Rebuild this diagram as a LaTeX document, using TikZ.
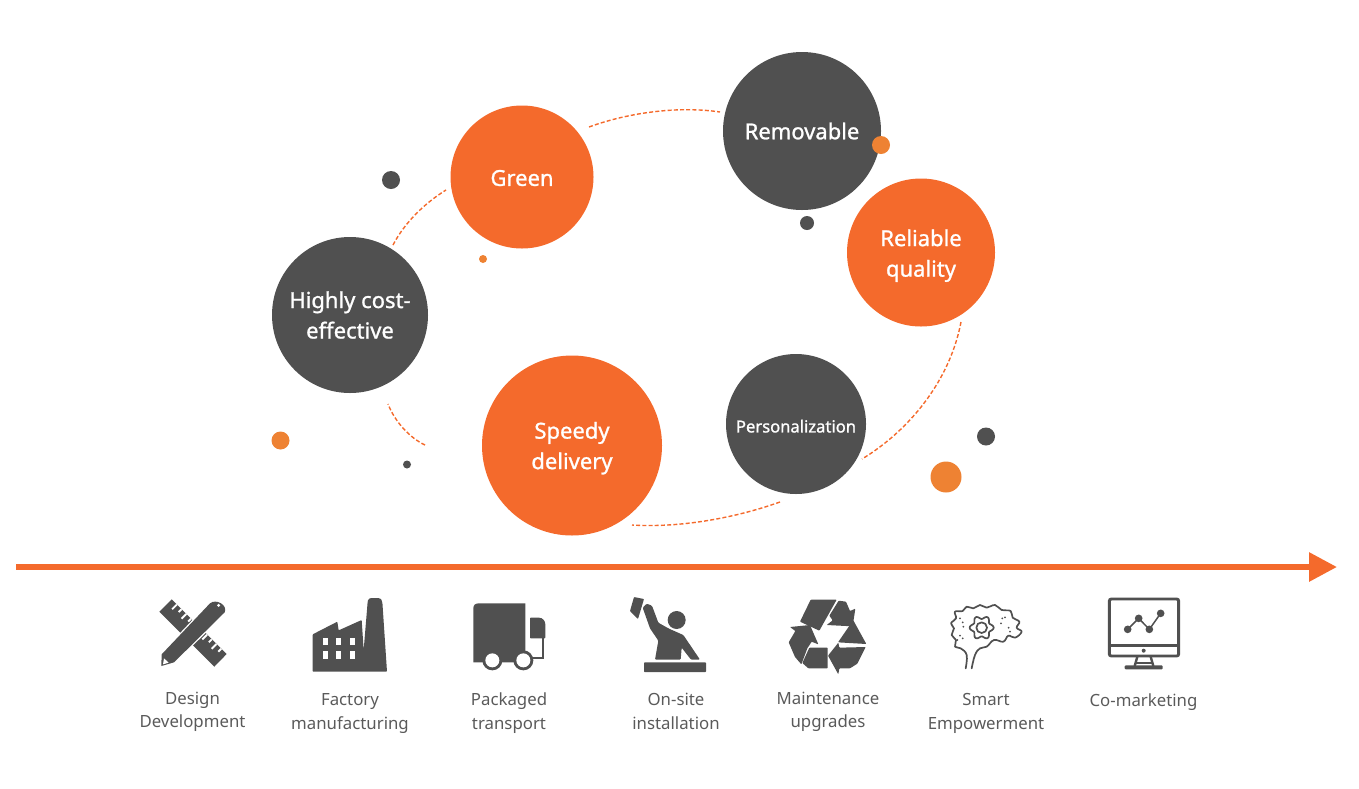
\documentclass[tikz,border=0pt]{standalone}
\usepackage{fontspec}
\setmainfont{Noto Sans}
\newfontfamily\circfont[FakeBold=1.1]{Noto Sans}
\usetikzlibrary{arrows.meta}
\definecolor{org}{HTML}{F46A2C}
\definecolor{org2}{HTML}{EE8233}
\definecolor{gry}{HTML}{505050}
\definecolor{txt}{HTML}{5A5A5A}
\newcommand{\dn}[1]{\rule{0pt}{#1pt}}
\tikzset{
  bub/.style={circle,inner sep=0pt,minimum size=#1,text=white,align=center,font=\circfont\fontsize{22}{30.5}\selectfont},
  orgbub/.style={bub=#1,fill=org},
  grybub/.style={bub=#1,fill=gry},
  dotg/.style={circle,inner sep=0pt,minimum size=#1,fill=gry},
  doto/.style={circle,inner sep=0pt,minimum size=#1,fill=org2},
  dashlink/.style={draw=org,line width=1.4pt,dash pattern=on 4pt off 2.2pt},
  caption/.style={text=txt,align=center,font=\fontsize{16.8}{23.5}\selectfont,inner sep=0pt},
  ic/.style={fill=gry,draw=none},
  iw/.style={fill=white,draw=none},
  il/.style={draw=gry,fill=none,line join=round,line cap=round}
}
\begin{document}
\begin{tikzpicture}[x=1pt,y=-1pt]
\useasboundingbox (0,0) rectangle (1359,788);
% bubbles
\node[grybub=156pt] (cost) at (350,315) {Highly cost-\\effective};
\node[orgbub=143pt] (green) at (522,177) {\dn{18}Green};
\node[grybub=158pt] (remov) at (802,131) {Removable};
\node[orgbub=148pt] (reli) at (921,252.5) {\dn{23}Reliable\\quality};
\node[grybub=140pt,font=\circfont\fontsize{16.6}{22}\selectfont] (pers) at (796,424) {\dn{17}Personalization};
\node[orgbub=180pt] (speed) at (572,445.5) {\dn{22}Speedy\\delivery};
% dots
\node[dotg=18pt] (d1) at (391,180) {};
\node[doto=18pt] (d2) at (881,145) {};
\node[dotg=14pt] (d3) at (807,223) {};
\node[doto=8pt] (d4) at (483,259) {};
\node[doto=18pt] (d5) at (280.5,440.5) {};
\node[dotg=8pt] (d6) at (407,464.5) {};
\node[dotg=18pt] (d7) at (986,436.5) {};
\node[doto=31pt] (d8) at (946,477) {};
% dashed arcs
\coordinate (a1) at (393,245); \coordinate (a2) at (446,190);
\coordinate (b1) at (589,127); \coordinate (b2) at (720,112);
\coordinate (c1) at (961,322); \coordinate (c2) at (862,459);
\coordinate (e1) at (780,502); \coordinate (e2) at (632,525);
\coordinate (f1) at (425,445); \coordinate (f2) at (388,404);
\draw[dashlink] (a1) .. controls (405,222) and (425,203) .. (a2);
\draw[dashlink] (b1) .. controls (630,112) and (680,106) .. (b2);
\draw[dashlink] (c1) .. controls (950,380) and (910,430) .. (c2);
\draw[dashlink] (e1) .. controls (735,518) and (680,528) .. (e2);
\draw[dashlink] (f1) .. controls (410,438) and (395,422) .. (f2);
% timeline
\coordinate (t1) at (16,567); \coordinate (t2) at (1337,567);
\draw[org,line width=6pt,-{Triangle[length=28pt,width=28pt]}] (t1) -- (t2);
% captions
\node[caption] (l1) at (192.5,711.5) {\strut Design\\\strut Development};
\node[caption] (l2) at (350,713) {\strut Factory\\\strut manufacturing};
\node[caption] (l3) at (509,713) {\strut Packaged\\\strut transport};
\node[caption] (l4) at (676,713) {\strut On-site\\\strut installation};
\node[caption] (l5) at (828,711.5) {\strut Maintenance\\\strut upgrades};
\node[caption] (l6) at (986,713) {\strut Smart\\\strut Empowerment};
\node[caption] (l7) at (1143.5,702) {\strut Co-marketing};
% icon 1: ruler and pencil
\begin{scope}[shift={(130,585)},scale=1/3]
\fill[ic] (125,43) -- (290,207) -- (253,245) -- (88,80) -- cycle;
\foreach \t/\l in {22/20,42/12,62/20,82/12,150/20,170/12,190/20,210/12}{
  \draw[white,line width=1.9pt] ({125+.707*\t},{43+.707*\t}) -- ++({-.707*\l},{.707*\l});
}
\draw[white,line width=2.6pt,fill=gry,line join=round] (95,208) -- (240,55) .. controls (258,40) and (294,60) .. (284,82) -- (132,232) -- (94,243) -- cycle;
\fill[ic] (95,208) -- (240,55) .. controls (258,40) and (294,60) .. (284,82) -- (132,232) -- (94,243) -- cycle;
\fill[iw] (102,220) -- (116,233) -- (99,238) -- cycle;
\fill[iw] (266,61) circle (5);
\end{scope}
% icon 2: factory
\begin{scope}[shift={(130,585)},scale=1/3]
\fill[ic,rounded corners=.7pt] (548,148) -- (622,110) -- (626,136) -- (695,105) -- (701,195) -- (713,50) [rounded corners=2.5pt] -- (716,39) -- (752,39) -- (757,50) [rounded corners=.7pt] -- (771,260) -- (548,260) -- cycle;
\foreach \x in {580,619,659}{ \foreach \y in {158,198}{
  \fill[iw] (\x,\y) rectangle (\x+15,\y+23);
}}
\end{scope}
% icon 3: truck
\begin{scope}[shift={(450,585)},scale=1/3]
\fill[ic] (70,232) -- (70,70) .. controls (70,60) and (76,55) .. (86,55) -- (226,55) -- (226,232) -- cycle;
\fill[ic,rounded corners=.7pt] (240,160) -- (240,98) -- (265,98) .. controls (278,98) and (286,108) .. (286,120) -- (286,160) -- cycle;
\draw[gry,line width=2pt] (279,158) -- (279,218) -- (240,218);
\foreach \x in {127,220}{
  \fill[ic] (\x,226) circle (30);
  \fill[iw] (\x,226) circle (21);
}
\end{scope}
% icon 4: installer
\begin{scope}[shift={(450,585)},scale=1/3]
\fill[ic,rounded corners=.7pt] (552,36) -- (582,42) -- (564,102) -- (540,78) -- cycle;
\fill[ic,rounded corners=1pt] (578,68) -- (590,56) -- (606,62) -- (625,113) -- (655,130) -- (700,150) -- (750,224) -- (723,224) -- (695,188) -- (692,224) -- (615,224) -- (625,167) -- (600,130) -- cycle;
\fill[ic] (680,105) circle (27);
\fill[ic,rounded corners=.7pt] (582,232) rectangle (768,261);
\end{scope}
% icon 5: recycle
\begin{scope}[shift={(770,585)},scale=1/3]
\begin{scope}[ic,rounded corners=.7pt]
\fill (122,44) -- (200,44) -- (148,137) -- (90,110) -- cycle;
\fill (206,47) -- (228,50) -- (240,78) -- (256,71) -- (248,124) -- (170,120) -- (188,106) -- (178,92) -- cycle;
\fill (250,106) -- (289,177) -- (204,172) -- (237,124) -- cycle;
\fill (287,186) -- (262,236) -- (240,250) -- (208,250) -- (205,268) -- (174,212) -- (205,173) -- (208,188) -- cycle;
\fill (118,188) -- (173,188) -- (173,250) -- (115,250) -- (97,234) -- cycle;
\fill (56,172) -- (76,138) -- (60,126) -- (120,120) -- (145,178) -- (125,170) -- (112,190) -- (94,238) -- (75,216) -- cycle;
\end{scope}
\end{scope}
% icon 6: brain
\begin{scope}[shift={(770,585)},scale=1/3]
\draw[il,line width=1.7pt] plot[smooth,tension=.7] coordinates {(587,250) (590,210) (572,190) (555,185) (558,165) (545,150) (552,130) (543,115) (558,100) (555,80) (578,78) (590,65) (610,70) (630,60) (650,68) (675,60) (695,75) (722,78) (728,98) (748,110) (740,128) (755,140) (735,158) (715,152) (700,170) (672,165) (650,185) (630,190) (615,210) (605,250)};
\begin{scope}[shift={(635,128)}]
\draw[il,line width=1.7pt] plot[smooth cycle,domain=0:355,samples=72] (\x:{31+5*cos(6*\x)});
\draw[il,line width=1.7pt] (0,0) circle (16);
\end{scope}
\foreach \p in {(570,100),(578,112),(580,125),(570,152),(578,160),(562,165),(697,100),(705,97),(693,115),(716,128),(720,140)}{
  \fill[ic] \p circle (3);
}
\end{scope}
% icon 7: monitor
\begin{scope}[shift={(770,585)},scale=1/3]
\draw[gry,line width=2.9pt,rounded corners=2pt] (1018,42) rectangle (1226,213);
\draw[gry,line width=2.9pt] (1018,182) -- (1226,182);
\fill[ic] (1121,197) circle (6);
\draw[gry,line width=2.4pt] (1102,215) -- (1094,243) (1142,215) -- (1150,243);
\draw[gry,line width=2pt] (1096,233) -- (1148,233);
\fill[ic,rounded corners=1pt] (1064,241) rectangle (1178,253);
\draw[gry,line width=1.5pt] (1073,133) -- (1106,100) -- (1138,133) -- (1172,85);
\foreach \p in {(1073,133),(1106,100),(1138,133),(1172,85)}{
  \fill[ic] \p circle (11.5);
}
\end{scope}
\end{tikzpicture}
\end{document}
